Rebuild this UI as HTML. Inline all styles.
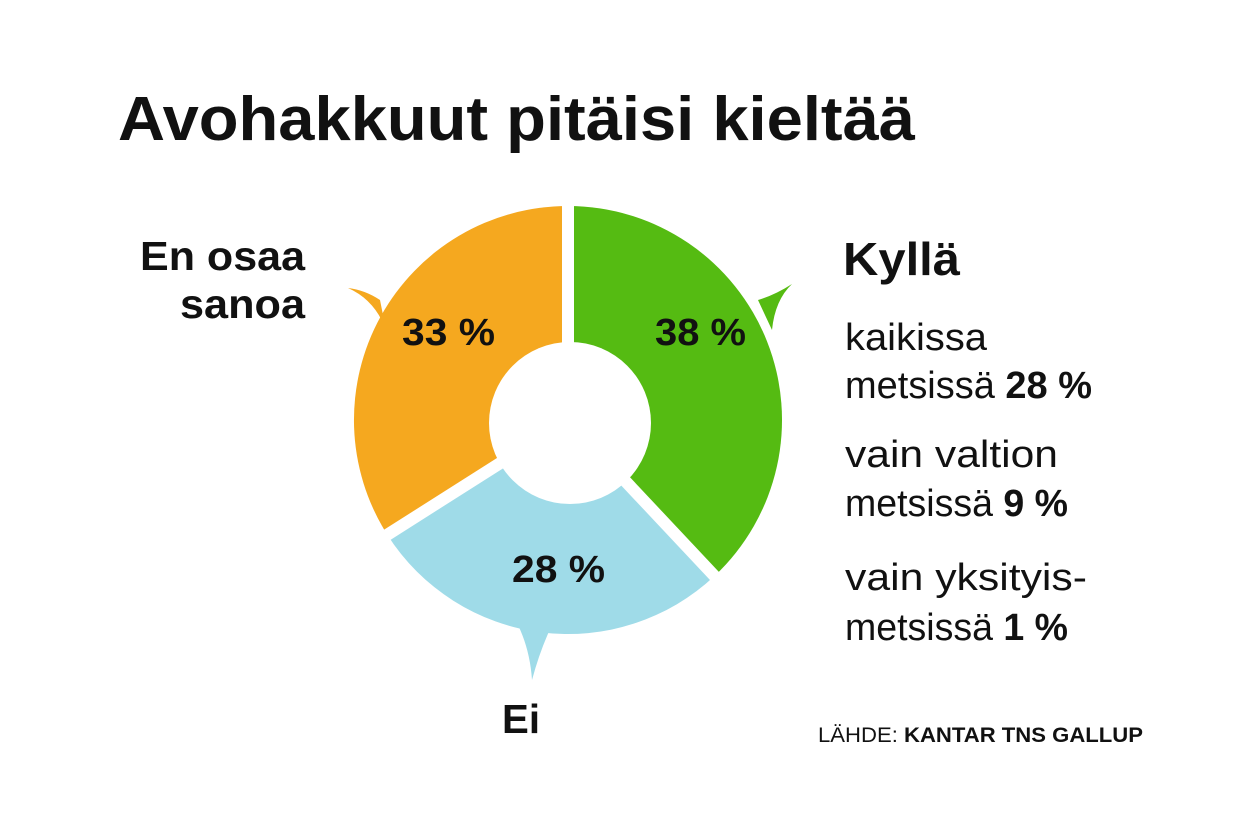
<!DOCTYPE html>
<html><head><meta charset="utf-8"><style>
html,body{margin:0;padding:0;background:#fff;}
svg{display:block;}
text{font-family:"Liberation Sans",sans-serif;fill:#111;}
.b{font-weight:bold;}
</style></head><body>
<svg width="1240" height="825" viewBox="0 0 1240 825">
<text x="118" y="140" class="b" font-size="62" textLength="797" lengthAdjust="spacingAndGlyphs">Avohakkuut pitäisi kieltää</text>
<!-- tails -->
<path d="M380,300 Q365,290 348,288 Q375,300 386,330 Z" fill="#f5a81f"/>
<path d="M758,300 Q775,295 792,284 Q775,300 772,330 Z" fill="#55bb12"/>
<path d="M518,625 Q530,650 532,680 Q540,650 552,625 Z" fill="#9fdbe8"/>
<!-- sectors -->
<path d="M568,420 L568,206 A214,214 0 0 1 714.5,576 Z" fill="#55bb12"/>
<path d="M568,420 L714.5,576 A214,214 0 0 1 387.3,534.7 Z" fill="#9fdbe8"/>
<path d="M568,420 L387.3,534.7 A214,214 0 0 1 568,206 Z" fill="#f5a81f"/>
<g stroke="#fff" stroke-width="12">
<line x1="568" y1="420" x2="568" y2="200"/>
<line x1="568" y1="420" x2="718.6" y2="580.4"/>
<line x1="568" y1="420" x2="382.2" y2="538"/>
</g>
<circle cx="570" cy="423" r="81" fill="#fff"/>
<text x="402" y="345" class="b" font-size="38" textLength="93" lengthAdjust="spacingAndGlyphs">33 %</text>
<text x="655" y="345" class="b" font-size="38" textLength="91" lengthAdjust="spacingAndGlyphs">38 %</text>
<text x="512" y="582" class="b" font-size="38" textLength="93" lengthAdjust="spacingAndGlyphs">28 %</text>
<text x="140" y="270" class="b" font-size="41" textLength="165" lengthAdjust="spacingAndGlyphs">En osaa</text>
<text x="180" y="318" class="b" font-size="41" textLength="125" lengthAdjust="spacingAndGlyphs">sanoa</text>
<text x="502" y="733" class="b" font-size="41" textLength="38" lengthAdjust="spacingAndGlyphs">Ei</text>
<text x="843" y="275" class="b" font-size="46" textLength="117" lengthAdjust="spacingAndGlyphs">Kyllä</text>
<g font-size="38">
<text x="845" y="350" textLength="142" lengthAdjust="spacingAndGlyphs">kaikissa</text>
<text x="845" y="398" textLength="247" lengthAdjust="spacingAndGlyphs">metsissä <tspan class="b">28 %</tspan></text>
<text x="845" y="467" textLength="213" lengthAdjust="spacingAndGlyphs">vain valtion</text>
<text x="845" y="516" textLength="223" lengthAdjust="spacingAndGlyphs">metsissä <tspan class="b">9 %</tspan></text>
<text x="845" y="590" textLength="242" lengthAdjust="spacingAndGlyphs">vain yksityis-</text>
<text x="845" y="640" textLength="223" lengthAdjust="spacingAndGlyphs">metsissä <tspan class="b">1 %</tspan></text>
</g>
<text x="818" y="742" font-size="21" textLength="325" lengthAdjust="spacingAndGlyphs">LÄHDE: <tspan class="b">KANTAR TNS GALLUP</tspan></text>
</svg>
</body></html>
